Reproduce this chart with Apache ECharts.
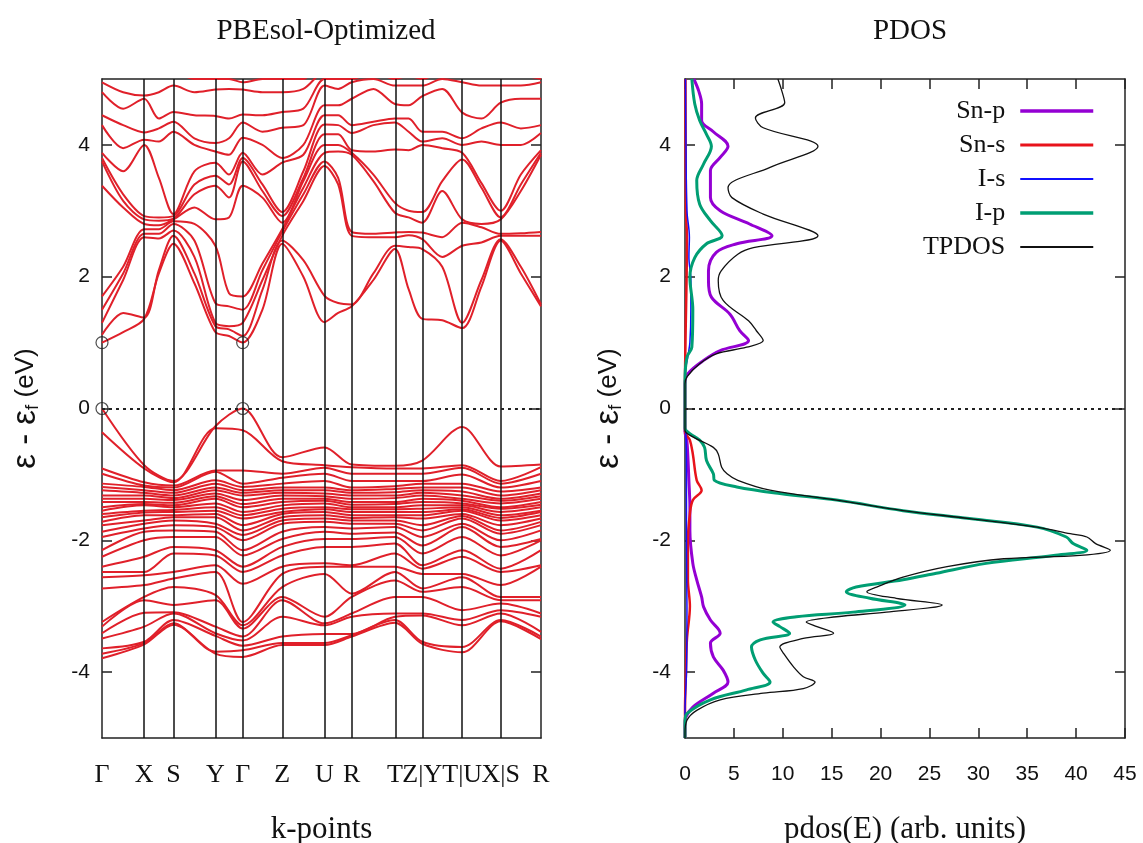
<!DOCTYPE html>
<html>
<head>
<meta charset="utf-8">
<title>PBEsol bands and PDOS</title>
<script src="https://cdn.jsdelivr.net/npm/echarts@6/dist/echarts.min.js"></script>
<style>
  html, body { margin: 0; padding: 0; background: #fff; }
  #chart { width: 1143px; height: 843px; }
</style>
</head>
<body>
<div id="chart"></div>
<script>
// k-path distance of the high symmetry points
const kSym = [0, 0.423, 0.716, 1.136, 1.410, 1.806, 2.230, 2.503, 2.936, 3.210, 3.610, 3.996, 4.400];
const kLabels = ['Γ', 'X', 'S', 'Y', 'Γ', 'Z', 'U', 'R', 'T', 'Z|Y', 'T|U', 'X|S', 'R'];
// high symmetry points + midpoints, used for the conduction bands
const kFine = [0, 0.212, 0.423, 0.570, 0.716, 0.926, 1.136, 1.273, 1.410, 1.608, 1.806, 2.018, 2.230,
  2.367, 2.503, 2.720, 2.936, 3.073, 3.210, 3.410, 3.610, 3.803, 3.996, 4.198, 4.400];

// conduction band energies (eV) at every kFine point, lowest band first
const cbAtK = [
  [1.00, 1.12, 1.30, 1.50, 1.70, 3.38, 3.75, 3.80, 3.88, 4.30, 4.45, 4.80, 4.95, 5.20],
  [1.16, 1.45, 1.95, 2.05, 2.15, 3.05, 3.15, 3.25, 3.60, 3.95, 4.30, 4.55, 4.80, 5.10],
  [1.36, 1.38, 2.60, 2.65, 2.72, 2.80, 2.87, 2.92, 4.00, 4.08, 4.19, 4.70, 4.75, 5.10],
  [2.05, 2.10, 2.58, 2.65, 2.72, 2.78, 2.85, 2.90, 3.50, 4.05, 4.25, 4.40, 4.80, 5.10],
  [2.50, 2.62, 2.70, 2.80, 2.84, 2.87, 2.88, 2.92, 2.95, 4.20, 4.35, 4.50, 4.90, 5.10],
  [1.90, 2.05, 2.30, 2.55, 2.80, 3.05, 3.25, 3.40, 3.60, 4.00, 4.10, 4.45, 4.80, 5.00],
  [1.16, 1.25, 1.30, 1.60, 2.47, 2.87, 3.38, 3.53, 3.73, 3.90, 4.03, 4.44, 4.84, 5.00],
  [1.10, 1.20, 1.25, 1.55, 1.75, 2.90, 3.20, 3.40, 3.55, 3.85, 4.10, 4.40, 4.85, 5.00],
  [1.00, 1.10, 1.30, 1.50, 1.70, 3.38, 3.75, 3.80, 3.88, 4.11, 4.34, 4.46, 4.84, 4.95],
  [1.50, 1.80, 1.95, 2.10, 2.20, 3.20, 3.30, 3.40, 3.55, 4.00, 4.20, 4.45, 4.80, 5.00],
  [2.50, 2.55, 2.62, 2.68, 2.72, 2.82, 2.92, 2.98, 3.73, 3.80, 4.26, 4.50, 4.80, 5.00],
  [2.00, 2.25, 3.15, 3.25, 3.35, 3.45, 3.50, 3.60, 3.85, 4.00, 4.30, 4.55, 4.85, 5.00],
  [1.31, 1.71, 3.68, 3.75, 3.88, 4.00, 4.16, 4.31, 4.45, 4.60, 4.90, 5.00, 5.10, 5.30],
  [1.45, 1.60, 3.40, 3.50, 3.90, 4.00, 4.16, 4.30, 4.45, 4.60, 4.85, 5.00, 5.10, 5.30],
  [1.55, 1.58, 2.62, 2.68, 3.85, 3.88, 3.92, 4.18, 4.30, 4.70, 4.95, 5.00, 5.10, 5.30],
  [1.95, 2.05, 2.60, 2.65, 3.45, 3.55, 3.90, 4.30, 4.35, 4.85, 5.00, 5.10, 5.20, 5.30],
  [2.42, 2.47, 2.60, 2.67, 2.97, 3.12, 3.93, 4.34, 4.40, 4.62, 4.90, 5.00, 5.20, 5.40],
  [1.81, 2.45, 2.63, 2.68, 2.90, 3.00, 3.92, 4.20, 4.40, 4.60, 4.90, 5.05, 5.20, 5.40],
  [1.36, 2.42, 2.57, 2.67, 2.82, 2.98, 4.00, 4.05, 4.20, 4.74, 4.90, 5.00, 5.20, 5.40],
  [1.34, 2.15, 2.30, 2.60, 3.30, 3.45, 3.95, 4.10, 4.20, 4.85, 5.00, 5.10, 5.20, 5.40],
  [1.22, 1.30, 2.47, 2.82, 2.87, 3.78, 3.88, 4.00, 4.10, 4.49, 4.95, 5.05, 5.20, 5.40],
  [1.85, 1.95, 2.52, 2.75, 2.80, 3.35, 3.42, 4.05, 4.25, 4.40, 4.90, 5.05, 5.20, 5.40],
  [2.55, 2.57, 2.62, 2.65, 2.87, 2.90, 3.00, 4.00, 4.34, 4.64, 4.90, 5.05, 5.20, 5.40],
  [2.05, 2.15, 2.62, 2.66, 3.30, 3.40, 3.55, 4.00, 4.25, 4.70, 4.90, 5.05, 5.20, 5.40],
  [1.55, 1.58, 2.62, 2.68, 3.85, 3.88, 3.92, 4.18, 4.30, 4.70, 4.95, 5.00, 5.10, 5.30]
];

// valence band energies (eV) at every kSym point, highest band first
const vbAtK = [
  [0, -0.36, -0.91, -0.99, -1.14, -1.19, -1.24, -1.32, -1.37, -1.42, -1.50, -1.55, -1.60, -1.65, -1.72, -1.77, -1.87, -1.95, -2.15, -2.25, -2.40, -2.48, -2.56, -2.73, -3.24, -3.31, -3.41, -3.49, -3.64, -3.72, -3.79],
  [-0.86, -0.91, -1.12, -1.17, -1.19, -1.24, -1.28, -1.32, -1.37, -1.42, -1.45, -1.47, -1.55, -1.58, -1.62, -1.70, -1.75, -1.82, -1.87, -2.00, -2.25, -2.48, -2.53, -2.68, -2.86, -2.91, -3.10, -3.31, -3.54, -3.56, -3.58],
  [-1.10, -1.12, -1.17, -1.20, -1.24, -1.28, -1.32, -1.36, -1.39, -1.43, -1.47, -1.50, -1.54, -1.57, -1.62, -1.65, -1.70, -1.77, -1.85, -1.95, -2.10, -2.20, -2.48, -2.58, -2.71, -2.98, -3.09, -3.11, -3.21, -3.26, -3.28],
  [-0.27, -0.30, -0.94, -0.96, -1.09, -1.14, -1.20, -1.24, -1.29, -1.33, -1.37, -1.44, -1.50, -1.55, -1.60, -1.65, -1.75, -1.80, -1.87, -1.95, -2.15, -2.23, -2.38, -2.48, -2.83, -2.91, -3.31, -3.41, -3.45, -3.69, -3.72],
  [0, -0.33, -0.94, -1.14, -1.19, -1.24, -1.28, -1.32, -1.39, -1.45, -1.50, -1.57, -1.62, -1.67, -1.77, -1.85, -1.92, -2.00, -2.15, -2.23, -2.40, -2.48, -2.66, -3.24, -3.29, -3.34, -3.46, -3.52, -3.60, -3.67, -3.77],
  [-0.74, -0.80, -0.99, -1.05, -1.14, -1.20, -1.24, -1.28, -1.32, -1.37, -1.42, -1.47, -1.52, -1.57, -1.60, -1.65, -1.70, -1.75, -1.87, -1.98, -2.10, -2.23, -2.40, -2.51, -2.71, -2.86, -2.91, -3.16, -3.46, -3.56, -3.59],
  [-0.59, -0.86, -0.90, -0.99, -1.10, -1.20, -1.24, -1.29, -1.33, -1.37, -1.40, -1.44, -1.50, -1.53, -1.57, -1.62, -1.67, -1.72, -1.80, -1.87, -1.98, -2.10, -2.35, -2.40, -2.51, -3.16, -3.26, -3.29, -3.42, -3.56, -3.59],
  [-0.85, -0.89, -0.99, -1.10, -1.20, -1.24, -1.28, -1.32, -1.37, -1.42, -1.46, -1.50, -1.53, -1.57, -1.62, -1.66, -1.70, -1.75, -1.82, -1.90, -1.98, -2.10, -2.38, -2.40, -2.81, -2.86, -3.11, -3.16, -3.42, -3.44, -3.46],
  [-0.87, -0.91, -0.99, -1.10, -1.18, -1.22, -1.27, -1.32, -1.36, -1.42, -1.45, -1.50, -1.53, -1.57, -1.62, -1.65, -1.70, -1.75, -1.80, -1.88, -1.95, -2.05, -2.20, -2.40, -2.48, -2.61, -2.86, -3.11, -3.16, -3.21, -3.25],
  [-0.79, -0.91, -0.99, -1.10, -1.14, -1.20, -1.24, -1.28, -1.32, -1.37, -1.42, -1.47, -1.52, -1.57, -1.62, -1.67, -1.77, -1.85, -1.95, -2.08, -2.20, -2.38, -2.43, -2.51, -2.73, -2.78, -2.86, -3.11, -3.14, -3.54, -3.57],
  [-0.28, -0.86, -0.90, -1.00, -1.14, -1.20, -1.26, -1.32, -1.37, -1.40, -1.44, -1.47, -1.50, -1.53, -1.55, -1.60, -1.63, -1.67, -1.75, -1.80, -1.95, -2.15, -2.25, -2.51, -2.56, -2.71, -3.06, -3.21, -3.29, -3.62, -3.70],
  [-0.88, -1.10, -1.14, -1.20, -1.26, -1.32, -1.37, -1.40, -1.44, -1.50, -1.52, -1.57, -1.62, -1.66, -1.70, -1.77, -1.85, -1.90, -2.00, -2.10, -2.23, -2.43, -2.48, -2.68, -2.86, -2.91, -2.96, -3.06, -3.11, -3.21, -3.23],
  [-0.85, -0.89, -0.99, -1.10, -1.20, -1.24, -1.29, -1.33, -1.37, -1.42, -1.46, -1.50, -1.55, -1.57, -1.62, -1.67, -1.72, -1.77, -1.85, -1.98, -2.00, -2.15, -2.38, -2.40, -2.86, -2.91, -3.11, -3.16, -3.39, -3.46, -3.50]
];

// PDOS curves: energy (eV) and pdos (arb. units)
const snpE = [-5.0, -4.8, -4.68, -4.53, -4.32, -4.15, -3.97, -3.77, -3.56, -3.41, -3.21, -3.01, -2.86, -2.6, -2.35, -1.85, -1.5, -1.1, -0.5, -0.35, 0.37, 0.53, 0.73, 0.88, 1.03, 1.18, 1.43, 1.69, 1.94, 2.09, 2.37, 2.5, 2.62, 2.8, 3.0, 3.2, 3.61, 3.81, 3.98, 4.2, 4.37, 4.62, 4.82, 5.0];
const snpV = [0, 0, 0.1, 0.8, 2.9, 4.4, 3.9, 2.9, 2.6, 3.6, 2.6, 1.9, 1.7, 1.2, 0.8, 0.5, 0.5, 0.4, 0.2, 0, 0, 0.3, 1.9, 3.6, 6.5, 5.6, 4.6, 2.7, 2.4, 2.4, 3.2, 5.3, 8.9, 6.6, 3.6, 2.6, 2.6, 3.6, 4.4, 2.9, 1.7, 1.7, 1.4, 0.9];
const snsE = [-5.0, -4.6, -4.0, -3.5, -3.0, -2.6, -2.0, -1.6, -1.39, -1.24, -1.09, -0.69, -0.48, -0.35, 0.4, 1.0, 2.6, 3.0, 5.0];
const snsV = [0, 0, 0.1, 0.2, 0.5, 0.3, 0.3, 0.5, 0.8, 1.7, 1.2, 0.8, 0.5, 0, 0, 0.05, 0.2, 0.1, 0.05];
const isE = [-5.0, -4.6, -4.0, -3.0, -2.0, -1.0, -0.4, -0.3, 0.5, 0.8, 1.0, 1.5, 1.94, 2.3, 2.6, 3.0, 4.0, 5.0];
const isV = [0, 0, 0.15, 0.2, 0.15, 0.15, 0.1, 0, 0, 0.3, 0.5, 0.6, 0.6, 0.4, 0.45, 0.2, 0.1, 0.05];
const ipE = [-5.0, -4.75, -4.63, -4.42, -4.27, -4.15, -4.02, -3.82, -3.62, -3.51, -3.41, -3.31, -3.24, -3.16, -3.09, -2.98, -2.88, -2.78, -2.71, -2.6, -2.5, -2.35, -2.23, -2.15, -2.05, -1.95, -1.8, -1.67, -1.55, -1.39, -1.29, -1.19, -1.09, -0.99, -0.79, -0.59, -0.48, -0.38, -0.3, 0.42, 0.78, 0.93, 1.5, 1.99, 2.29, 2.5, 2.62, 2.85, 3.1, 3.46, 3.71, 3.98, 4.16, 4.37, 4.62, 5.0];
const ipV = [0, 0, 0.2, 2.6, 6.3, 8.7, 8.0, 7.2, 6.8, 7.7, 10.7, 9.7, 9.0, 11.4, 17.2, 22.5, 18.9, 16.5, 17.5, 22.3, 25.7, 30.8, 37.7, 41.1, 39.7, 39.0, 36.0, 29.1, 22.3, 15.5, 9.7, 5.3, 3.0, 2.9, 2.2, 2.0, 1.5, 0.5, 0, 0, 0.2, 0.7, 0.8, 0.5, 1.0, 2.2, 3.8, 2.6, 1.5, 1.2, 1.9, 2.7, 2.2, 1.5, 1.0, 0.7];
const tpE = [-5.0, -4.93, -4.73, -4.58, -4.42, -4.32, -4.25, -4.15, -4.07, -3.92, -3.72, -3.62, -3.49, -3.41, -3.31, -3.24, -3.16, -3.09, -2.98, -2.88, -2.78, -2.71, -2.56, -2.4, -2.28, -2.23, -2.15, -2.05, -1.95, -1.9, -1.8, -1.67, -1.55, -1.39, -1.24, -1.09, -0.99, -0.89, -0.69, -0.59, -0.43, -0.33, 0.37, 0.48, 0.68, 0.83, 0.93, 1.03, 1.18, 1.33, 1.64, 1.94, 2.09, 2.34, 2.44, 2.62, 2.95, 3.2, 3.35, 3.66, 3.98, 4.26, 4.41, 4.64, 4.82, 5.0];
const tpV = [0, 0, 0.2, 1.2, 3.6, 8.0, 12.1, 13.3, 12.1, 11.1, 10.1, 9.7, 12.1, 15.2, 13.5, 12.4, 15.5, 20.6, 26.3, 21.6, 18.6, 19.6, 22.3, 26.8, 32.6, 40.4, 43.5, 42.0, 41.1, 39.4, 36.0, 29.1, 22.3, 15.5, 8.7, 5.4, 4.3, 3.75, 3.4, 2.9, 0.8, 0, 0, 0.2, 1.5, 3.2, 6.3, 8.0, 7.3, 6.5, 3.9, 3.4, 3.7, 5.4, 7.0, 13.6, 8.0, 4.8, 4.4, 8.7, 13.6, 8.0, 7.2, 10.2, 9.9, 9.5];

const eTicks = [-4, -2, 0, 2, 4];

const bandColor = '#e0202a';
const serif = 'Liberation Serif';
const sans = 'Liberation Sans';

var myChart = echarts.init(document.getElementById('chart'));

const series = [];

// bands: one line per band index
function addBands(kx, table) {
  const nb = table[0].length;
  for (let b = 0; b < nb; b++) {
    series.push({
      type: 'line', xAxisIndex: 0, yAxisIndex: 0,
      data: kx.map((k, i) => [k, table[i][b]]),
      symbol: 'none', smooth: 0.3, silent: true,
      lineStyle: { color: bandColor, width: 2 },
      z: 2
    });
  }
}
addBands(kFine, cbAtK);
addBands(kSym, vbAtK);

// high-symmetry verticals + fermi level
series[0].markLine = {
  symbol: 'none', silent: true, label: { show: false }, animation: false,
  data: kSym.slice(1, -1).map(k => ({ xAxis: k, lineStyle: { color: '#111', width: 1.5, type: 'solid' } }))
    .concat([{ yAxis: 0, lineStyle: { color: '#222', width: 2, type: [3, 4] } }])
};

// band-edge circles at the two Γ points
const gammaIdx = [0, 8];
const edgeMarks = [];
gammaIdx.forEach(i => {
  edgeMarks.push([kFine[i], cbAtK[i][0]]);
  edgeMarks.push([kFine[i], vbAtK[kSym.indexOf(kFine[i])][0]]);
});
series.push({
  type: 'scatter', xAxisIndex: 0, yAxisIndex: 0, data: edgeMarks,
  symbol: 'circle', symbolSize: 12, silent: true, z: 5,
  itemStyle: { color: 'rgba(0,0,0,0)', borderColor: '#222', borderWidth: 1.2 }
});

// PDOS
const pdosStyle = {
  'Sn-p': { color: '#9400d3', width: 3 },
  'Sn-s': { color: '#e8131b', width: 2.5 },
  'I-s': { color: '#1010ff', width: 1.5 },
  'I-p': { color: '#009e73', width: 3 },
  'TPDOS': { color: '#111111', width: 1.3 }
};
function pdos(name, E, V) {
  const st = pdosStyle[name];
  return {
    name: name, type: 'line', xAxisIndex: 2, yAxisIndex: 2,
    data: E.map((e, i) => [V[i], e]),
    symbol: 'none', smooth: 0.35, silent: true,
    lineStyle: { color: st.color, width: st.width }, itemStyle: { color: st.color }
  };
}
const pd = [
  pdos('Sn-p', snpE, snpV),
  pdos('Sn-s', snsE, snsV),
  pdos('I-s', isE, isV),
  pdos('I-p', ipE, ipV),
  pdos('TPDOS', tpE, tpV)
];
pd[0].markLine = {
  symbol: 'none', silent: true, label: { show: false }, animation: false,
  data: [{ yAxis: 0, lineStyle: { color: '#222', width: 2, type: [3, 4] } }]
};
series.push(...pd);

const frame = { show: true, onZero: false, lineStyle: { color: '#222', width: 1.5 } };
const yName = '{e|ε - ε}{s|f}{u| (eV)}';
const yNameStyle = {
  fontFamily: sans, color: '#111',
  rich: {
    e: { fontSize: 33, fontFamily: sans, color: '#111' },
    s: { fontSize: 19, fontFamily: sans, color: '#111', padding: [14, 0, 0, 0] },
    u: { fontSize: 26, fontFamily: sans, color: '#111' }
  }
};
const tickStyle = { inside: true, length: 10, lineStyle: { color: '#222', width: 1.5 } };

var option = {
  animation: false,
  backgroundColor: '#fff',
  title: [
    { text: 'PBEsol-Optimized', left: 321, top: 12, textAlign: 'center',
      textStyle: { fontFamily: serif, fontSize: 29, fontWeight: 'normal', color: '#111' } },
    { text: 'PDOS', left: 905, top: 12, textAlign: 'center',
      textStyle: { fontFamily: serif, fontSize: 29, fontWeight: 'normal', color: '#111' } }
  ],
  legend: {
    data: Object.keys(pdosStyle).map(n => ({ name: n, lineStyle: { width: pdosStyle[n].width + 0.5, color: pdosStyle[n].color } })),
    orient: 'vertical', align: 'right', right: 43, top: 93,
    itemWidth: 73, itemHeight: 14, itemGap: 8,
    itemStyle: { opacity: 0 },
    textStyle: { fontFamily: serif, fontSize: 26, color: '#111', lineHeight: 26, padding: [0, 10, 0, 0] },
    selectedMode: false
  },
  grid: [
    { left: 102, top: 79, width: 439, height: 659, outerBoundsMode: 'none' },
    { left: 685, top: 79, width: 440, height: 659, outerBoundsMode: 'none' }
  ],
  xAxis: [
    { type: 'value', gridIndex: 0, min: 0, max: kSym[kSym.length - 1],
      name: 'k-points', nameLocation: 'middle', nameGap: 76,
      nameTextStyle: { fontFamily: serif, fontSize: 31, color: '#111' },
      axisLine: frame, axisTick: { show: false }, splitLine: { show: false },
      axisLabel: { customValues: kSym, margin: 24, fontFamily: serif, fontSize: 26, color: '#111',
        formatter: v => kLabels[kSym.indexOf(v)] || '' } },
    { type: 'value', gridIndex: 0, position: 'top', min: 0, max: kSym[kSym.length - 1],
      axisLine: frame, axisTick: { show: false }, axisLabel: { show: false }, splitLine: { show: false } },
    { type: 'value', gridIndex: 1, min: 0, max: 45, interval: 5,
      name: 'pdos(E) (arb. units)', nameLocation: 'middle', nameGap: 76,
      nameTextStyle: { fontFamily: serif, fontSize: 31, color: '#111' },
      axisLine: frame, splitLine: { show: false }, axisTick: tickStyle,
      axisLabel: { margin: 26, fontFamily: sans, fontSize: 21, color: '#111' } },
    { type: 'value', gridIndex: 1, position: 'top', min: 0, max: 45, interval: 5,
      axisLine: frame, splitLine: { show: false }, axisLabel: { show: false }, axisTick: tickStyle }
  ],
  yAxis: [
    { type: 'value', gridIndex: 0, min: -5, max: 5,
      name: yName, nameLocation: 'middle', nameGap: 60, nameTextStyle: yNameStyle,
      axisLine: frame, splitLine: { show: false },
      axisTick: Object.assign({ customValues: eTicks }, tickStyle),
      axisLabel: { customValues: eTicks, margin: 12, fontFamily: sans, fontSize: 21, color: '#111' } },
    { type: 'value', gridIndex: 0, position: 'right', min: -5, max: 5,
      axisLine: frame, splitLine: { show: false }, axisLabel: { show: false },
      axisTick: Object.assign({ customValues: eTicks }, tickStyle) },
    { type: 'value', gridIndex: 1, min: -5, max: 5,
      name: yName, nameLocation: 'middle', nameGap: 60, nameTextStyle: yNameStyle,
      axisLine: frame, splitLine: { show: false },
      axisTick: Object.assign({ customValues: eTicks }, tickStyle),
      axisLabel: { customValues: eTicks, margin: 14, fontFamily: sans, fontSize: 21, color: '#111' } },
    { type: 'value', gridIndex: 1, position: 'right', min: -5, max: 5,
      axisLine: frame, splitLine: { show: false }, axisLabel: { show: false },
      axisTick: Object.assign({ customValues: eTicks }, tickStyle) }
  ],
  series: series
};

myChart.setOption(option);
</script>
</body>
</html>
